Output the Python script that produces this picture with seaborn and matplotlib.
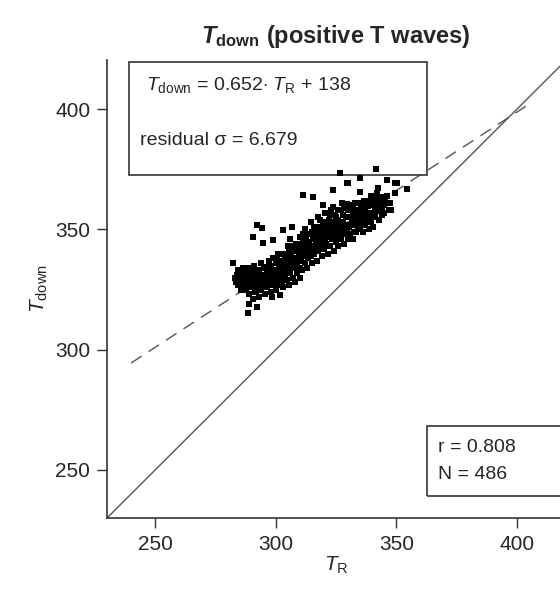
import numpy as np
import pandas as pd
import matplotlib
matplotlib.use("Agg")
import matplotlib.pyplot as plt
import matplotlib.patches as patches
import seaborn as sns

# Points (T_R, T_down)
t_r = [
    282.3, 283, 283.5, 284, 284.5, 285, 285.5, 286, 286, 286.8, 287, 287.5, 288, 288, 288.5, 289, 289, 289.5, 290, 290, 288.5, 290.6, 289,
    290.5, 291, 291, 291.5, 292, 292.2, 292.2, 292.5, 293, 293, 293.5, 294, 294, 294.3, 294.7, 295, 295, 295.5, 296, 296, 296.4, 296.5,
    297, 297, 297.5, 298, 298, 298.5, 298.5, 299, 299, 298.9, 299.5, 300, 300, 300,
    300.5, 301, 301, 301.5, 301.8, 302, 302, 302.5, 303, 303, 303, 303.5, 304, 304, 304.5, 305, 305, 305.5, 305.5, 306, 306, 306.8,
    306.5, 307, 307, 307.5, 308, 308, 308.5, 309, 309, 309.5, 310, 310, 310,
    310.5, 311, 311.3, 311, 311.5, 312, 312, 312.5, 313, 313, 313.5, 314, 314, 314.5, 315, 315, 315.5, 315.5, 316, 316, 316.5, 317,
    317, 317.5, 318, 318, 318.5, 319, 319, 319.6, 319.5, 320, 320, 320,
    320.5, 321, 321, 321.5, 322, 322, 322.5, 323, 323, 323.5, 323.8, 323.8, 324, 324, 324.5, 325, 325, 325.5, 326, 326, 326.7, 326.5,
    327, 327, 327.5, 328, 328, 328.5, 329, 329, 329.4, 329.5, 330, 330, 330,
    330.5, 331, 331, 331.5, 332, 332, 332.5, 333, 333, 333.5, 334, 334, 335, 335, 335, 335, 335.5, 336, 336, 336.5, 337, 337, 337.8,
    338, 338.3, 338.5, 339, 339.8, 339.5, 340, 340,
    340.4, 341, 341.6, 341.9, 342.4, 342.4, 343, 343, 344, 344.5, 345, 345.4, 346, 346.6, 347.4, 348, 349.5, 349.5, 350.2, 354.3, 342, 344,
    # dense core of the cloud
    284.5, 285.5, 286.5, 287, 287.5, 288.5, 289.5, 290, 290.5, 291, 291.5, 292, 292.5, 293, 293.5, 294, 294.5, 295, 295.5, 296,
    296.5, 297, 297.5, 298, 298.5, 299, 299.5, 300, 300.5, 301, 301.5, 302, 302.5, 303, 303.5, 304, 304.5, 305, 305.5, 306,
    306.5, 307, 307.5, 308, 308.5, 309, 309.5, 310, 310.5, 311, 311.5, 312, 312.5, 313, 313.5, 314, 314.5, 315, 315.5, 316,
    316.5, 317, 317.5, 318, 318.5, 319, 319.5, 320, 320.5, 321, 321.5, 322, 322.5, 323, 323.5, 324, 324.5, 325, 325.5, 326,
    326.5, 327, 327.5, 328, 328.5, 329, 329.5, 330, 330.5, 331, 331.5, 332, 332.5, 333, 333.5, 334, 334.5, 335, 335.5, 336,
    336.5, 337, 337.5, 338, 338.5, 339, 339.5, 340, 340.5, 341, 341.5, 342, 343, 343.5, 344, 345, 346, 347,
]
t_down = [
    336.1, 330, 328, 331, 327, 329.5, 332, 326, 330.5, 328, 333, 325, 329, 331.5, 327, 334, 323, 330, 326, 332, 315.3, 347, 319,
    321, 328, 335, 324, 330, 317.8, 351.9, 327, 333, 322, 329, 325, 336, 350.6, 344.4, 331, 327, 323, 334, 329, 334.4, 326,
    332, 337, 328, 324, 335, 322, 330, 338, 327, 345.6, 333, 329, 336, 325,
    332, 327, 340, 334, 322.8, 330, 337, 328, 349.8, 333, 326, 340, 331, 336, 329, 343, 334, 327, 338, 332, 346, 351,
    336, 330, 341, 334, 338, 328, 344, 332, 336, 340, 330, 347, 334,
    338, 342, 364.4, 333, 345, 336, 350, 340, 334, 344, 338, 348, 341, 353, 336, 343, 363.7, 346, 340, 351, 344, 337,
    348, 355, 342, 346, 351, 339, 344, 360.2, 349, 342, 353, 346,
    357, 344, 350, 340, 347, 354, 343, 350, 358, 346, 359.4, 366.4, 341, 352, 348, 355, 345, 351, 358, 343, 373.6, 348,
    353, 346, 361, 350, 356, 344, 352, 348, 360.6, 369.4, 355, 346, 369.4,
    351, 358, 348, 354, 359.4, 346, 352, 356, 361, 349, 354, 358, 371.4, 365.7, 351, 356, 360, 349, 354, 358, 356.2, 352, 360.2,
    355, 359.7, 350, 357, 363.1, 353, 360, 355,
    351.2, 358, 375.2, 365.2, 367.3, 357.5, 361, 354, 359, 363.7, 357, 363.1, 370.6, 361, 361, 358, 369.4, 365.2, 369.4, 366.8, 362, 356,
    # dense core of the cloud
    333, 325, 334, 327.5, 331, 333, 327.5, 329, 334, 326, 331, 324, 333, 328, 325, 331, 328, 334, 330, 327,
    332, 329, 335, 331, 327, 333, 330, 333, 338, 330, 337, 333, 335, 331, 337, 339, 333, 337, 341, 335,
    339, 337, 343, 341, 335, 343, 337, 341, 344, 339, 348, 343, 346, 348, 342, 345, 339, 349, 342, 347,
    350, 345, 341, 349, 354, 347, 352, 349, 345, 353, 348, 351, 356, 347, 353, 349, 356, 350, 347, 354,
    352, 358, 349, 353, 359, 355, 350, 358, 355, 352, 360, 356, 349, 353, 358, 350, 356, 361, 353, 357,
    362, 359, 354, 362, 357, 360, 364, 357, 362, 355, 360, 364, 358, 363, 361, 360, 364, 358,
]

slope = 0.652
intercept = 138
fit_range = [240, 405]
identity_range = [230, 430]

x_ticks = [250, 300, 350, 400]
y_ticks = [250, 300, 350, 400]

df = pd.DataFrame({"t_r": t_r, "t_down": t_down})

sns.set_theme(style="ticks")
plt.rcParams["font.family"] = ["Liberation Sans", "DejaVu Sans"]
plt.rcParams["mathtext.fontset"] = "custom"
plt.rcParams["mathtext.rm"] = "Liberation Sans"
plt.rcParams["mathtext.it"] = "Liberation Sans:italic"
plt.rcParams["mathtext.bf"] = "Liberation Sans:bold"
plt.rcParams["mathtext.bfit"] = "Liberation Sans:italic:bold"

fig = plt.figure(figsize=(5.6, 5.91), dpi=100)
ax = fig.add_axes([107 / 560, 73 / 591, 458 / 560, 458 / 591])

# identity line and regression line
ax.plot(identity_range, identity_range, color="#555555", lw=1.0, zorder=1)
fit_y = [slope * v + intercept for v in fit_range]
ax.plot(fit_range, fit_y, color="#555555", lw=1.0, dashes=(9, 6), zorder=1)

sns.scatterplot(data=df, x="t_r", y="t_down", ax=ax, marker="s", s=18,
                color="black", linewidth=0, zorder=3)

ax.set_xlim(230, 420)
ax.set_ylim(230, 420.5)
ax.set_xticks(x_ticks)
ax.set_yticks(y_ticks)
ax.tick_params(labelsize=15, length=7, width=1, color="#333333", pad=5)
sns.despine(ax=ax)
for s in ["left", "bottom"]:
    ax.spines[s].set_color("#333333")
    ax.spines[s].set_linewidth(1.2)

ax.set_xlabel(r"$T_{\mathrm{R}}$", fontsize=15, labelpad=1)
ax.set_ylabel(r"$T_{\mathrm{down}}$", fontsize=15, labelpad=4)
ax.set_title(r"$\mathbfit{T}_{\mathbf{down}}$ (positive T waves)", fontsize=17,
             fontweight="bold", pad=12)

# equation box
ax.add_patch(patches.Rectangle((0.048, 0.749), 0.651, 0.247, transform=ax.transAxes,
                               fill=False, edgecolor="#333333", lw=1.2, clip_on=False))
ax.text(0.085, 0.945, r"$T_{\mathrm{down}}$ = 0.652$\cdot$ $T_{\mathrm{R}}$ + 138",
        transform=ax.transAxes, fontsize=14, va="center")
ax.text(0.072, 0.825, "residual σ = 6.679", transform=ax.transAxes, fontsize=14, va="center")

# stats box
ax.add_patch(patches.Rectangle((0.699, 0.048), 0.4, 0.153, transform=ax.transAxes,
                               fill=False, edgecolor="#333333", lw=1.2, clip_on=False))
ax.text(0.723, 0.153, "r = 0.808", transform=ax.transAxes, fontsize=14, va="center")
ax.text(0.723, 0.094, "N = 486", transform=ax.transAxes, fontsize=14, va="center")

fig.savefig("out.png", dpi=100)
